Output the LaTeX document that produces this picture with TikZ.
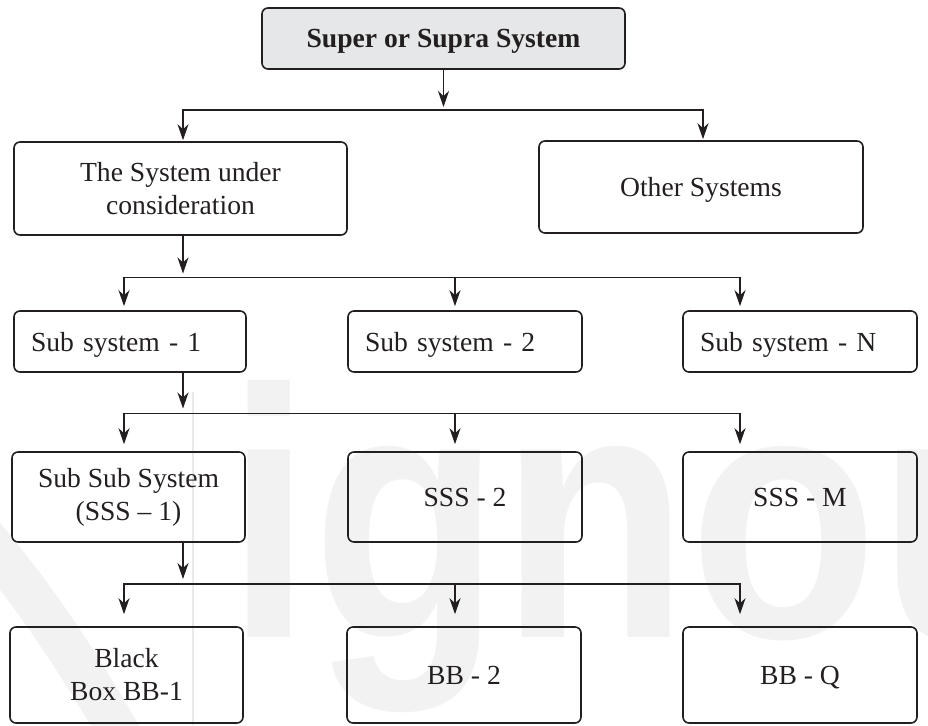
\documentclass[tikz,border=0pt]{standalone}
\usepackage{fontspec}
\setmainfont{Liberation Serif}
\newfontfamily\markfont{Liberation Sans}
\usetikzlibrary{arrows.meta}
\definecolor{inkc}{HTML}{231F20}
\definecolor{topfill}{HTML}{E6E7E8}
\definecolor{wmark}{HTML}{F2F2F2}
\definecolor{wline}{HTML}{EAEAEA}
\tikzset{hd/.tip={Stealth[length=16pt,width=11pt,inset=5pt]}}
\begin{document}
\begin{tikzpicture}[x=1pt,y=-1pt,
  ink/.style={draw=inkc, line width=1.6pt},
  box/.style={ink, rounded corners=6pt, inner sep=0pt, align=center,
    text=inkc, font=\fontsize{27.6}{33}\selectfont},
  oneline/.style={text height=19pt, text depth=0pt},
  leftbox/.style={box, oneline, align=left, inner xsep=17pt, minimum height=61pt},
  arr/.style={ink, -hd},
  twoarr/.style={ink, hd-hd}]

\useasboundingbox (0,0) rectangle (928,725);

% faint logo in the background
\draw[wmark, line width=42pt] (-30,520) .. controls (40,600) and (90,680) .. (140,770);
\draw[wline, line width=1.2pt] (193,392) -- (193,725);
\node[anchor=base west, inner sep=0pt, text=wmark,
  font=\markfont\bfseries\fontsize{355}{355}\selectfont] (logo) at (226,637)
  {\scalebox{0.87}[1]{ignou}};

% boxes
\node[box, oneline, fill=topfill, minimum width=363pt, minimum height=61pt,
  font=\fontsize{27.6}{33}\selectfont\bfseries] (top) at (443.5,38.5) {Super or Supra System};

\node[box, minimum width=333pt, minimum height=93pt] (sys) at (180.5,188.5) {The System under\\consideration};
\node[box, oneline, minimum width=324pt, minimum height=92pt] (oth) at (701,187) {Other Systems};

\node[leftbox, text width=198pt] (s1) at (130,341.5) {Sub system - 1};
\node[leftbox, text width=200pt] (s2) at (465,341.5) {Sub system - 2};
\node[leftbox, text width=200pt] (sn) at (800,341.5) {Sub system - N};

\node[box, minimum width=233pt, minimum height=90pt] (ss1) at (128.5,497) {Sub Sub System\\(SSS – 1)};
\node[box, oneline, minimum width=234pt, minimum height=90pt] (ss2) at (465,497) {SSS - 2};
\node[box, oneline, minimum width=234pt, minimum height=90pt] (ssm) at (800,497) {SSS - M};

\node[box, minimum width=233pt, minimum height=96pt] (bb1) at (126.5,675) {Black\\Box BB-1};
\node[box, oneline, minimum width=234pt, minimum height=96pt] (bb2) at (464,675) {BB - 2};
\node[box, oneline, minimum width=234pt, minimum height=96pt] (bbq) at (800,675) {BB - Q};

% branch points
\coordinate (stem) at (183,0);
\coordinate (b0l) at (183,110);   \coordinate (b0r) at (703,110);
\coordinate (b1l) at (124,277.5); \coordinate (b1m) at (455,277.5); \coordinate (b1r) at (740,277.5);
\coordinate (b2l) at (124,413.5); \coordinate (b2m) at (455,413.5); \coordinate (b2r) at (740,413.5);
\coordinate (b3l) at (124,584);   \coordinate (b3m) at (455,584);   \coordinate (b3r) at (740,584);

% level 0 -> 1
\draw[arr, shorten >=3pt] (top.south) -- (top.south |- b0l);
\draw[twoarr, shorten <=1pt, shorten >=1pt] (b0l |- sys.north) -- (b0l) -- (b0r) -- (b0r |- oth.north);

% level 1 -> 2
\draw[arr, shorten >=4pt] (stem |- sys.south) -- (stem |- b1l);
\draw[twoarr, shorten <=4pt, shorten >=4pt] (b1l |- s1.north) -- (b1l) -- (b1r) -- (b1r |- sn.north);
\draw[arr, shorten >=4pt] (b1m) -- (b1m |- s2.north);

% level 2 -> 3
\draw[arr, shorten >=5pt] (stem |- s1.south) -- (stem |- b2l);
\draw[twoarr, shorten <=7pt, shorten >=7pt] (b2l |- ss1.north) -- (b2l) -- (b2r) -- (b2r |- ssm.north);
\draw[arr, shorten >=7pt] (b2m) -- (b2m |- ss2.north);

% level 3 -> 4
\draw[arr, shorten >=5pt] (stem |- ss1.south) -- (stem |- b3l);
\draw[twoarr, shorten <=12pt, shorten >=12pt] (b3l |- bb1.north) -- (b3l) -- (b3r) -- (b3r |- bbq.north);
\draw[arr, shorten >=12pt] (b3m) -- (b3m |- bb2.north);
\end{tikzpicture}
\end{document}
